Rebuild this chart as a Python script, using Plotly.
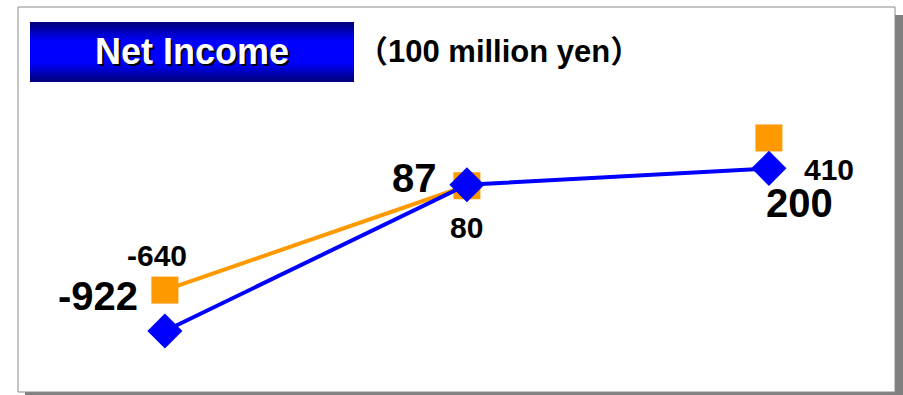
import plotly.graph_objects as go

# ---- data ----
categories = ["A", "B", "C"]
blue_values = [-922, 87, 200]
orange_values = [-640, 80, 410]
orange_line_points = 2  # the orange line only joins the first two points
title_text = "Net Income"
unit_text = "（100 million yen）"

W, H = 903, 395
FONT = "Liberation Sans, Arial, Noto Sans CJK JP, sans-serif"

def px(x):
    return x / W

def py(y):
    return 1 - y / H

fig = go.Figure()

fig.add_trace(go.Scatter(
    x=categories[:orange_line_points], y=orange_values[:orange_line_points],
    mode="lines", line=dict(color="#FF9900", width=4),
    hoverinfo="skip", showlegend=False,
))
fig.add_trace(go.Scatter(
    x=categories, y=orange_values, mode="markers",
    marker=dict(symbol="square", size=27, color="#FF9900"),
    hoverinfo="skip", showlegend=False,
))
fig.add_trace(go.Scatter(
    x=categories, y=blue_values, mode="lines+markers",
    line=dict(color="#0000FF", width=4),
    marker=dict(symbol="diamond", size=27, color="#0000FF"),
    hoverinfo="skip", showlegend=False,
))

shapes = []
# shadow of the frame
shapes.append(dict(type="rect", xref="paper", yref="paper", layer="below",
                   x0=px(25), x1=px(905), y0=py(399), y1=py(15),
                   fillcolor="#808080", line=dict(width=0)))
# frame
shapes.append(dict(type="rect", xref="paper", yref="paper", layer="below",
                   x0=px(18), x1=px(895), y0=py(392), y1=py(7),
                   fillcolor="white", line=dict(color="#8a8a8a", width=1)))
# title box gradient (strips)
top, bot = 22, 82
n = bot - top
for i in range(n):
    t = (i + 0.5) / n
    d = abs(t - 0.5) * 2
    k = max(0.0, (d - 0.35) / 0.65)
    b = int(round(255 - k * (255 - 120)))
    shapes.append(dict(type="rect", xref="paper", yref="paper", layer="below",
                       x0=px(30), x1=px(354), y0=py(top + i + 1), y1=py(top + i),
                       fillcolor=f"rgb(0,0,{b})", line=dict(width=0)))

annotations = []
annotations.append(dict(xref="paper", yref="paper", x=px(192), y=py(51),
                        text=f"<b>{title_text}</b>", showarrow=False,
                        xanchor="center", yanchor="middle",
                        font=dict(family=FONT, size=36, color="white",
                                  shadow="2px 2px 0px black")))
annotations.append(dict(xref="paper", yref="paper", x=px(499), y=py(51),
                        text=f"<b>{unit_text}</b>", showarrow=False,
                        xanchor="center", yanchor="middle",
                        font=dict(family=FONT, size=31, color="black")))

blue_offsets = [(-67, 35), (-52, 7), (31, -35)]
orange_offsets = [(-8, 35), (0, -42), (60, -32)]
for c, v, (dx, dy) in zip(categories, blue_values, blue_offsets):
    annotations.append(dict(x=c, y=v, text=f"<b>{v}</b>", showarrow=False,
                            xshift=dx, yshift=dy, xanchor="center", yanchor="middle",
                            font=dict(family=FONT, size=40, color="black")))
for c, v, (dx, dy) in zip(categories, orange_values, orange_offsets):
    annotations.append(dict(x=c, y=v, text=f"<b>{v}</b>", showarrow=False,
                            xshift=dx, yshift=dy, xanchor="center", yanchor="middle",
                            font=dict(family=FONT, size=30, color="black")))

fig.update_layout(
    width=W, height=H,
    margin=dict(l=0, r=0, t=0, b=0),
    paper_bgcolor="white", plot_bgcolor="rgba(0,0,0,0)",
    xaxis=dict(range=[-0.546, 2.444], visible=False, fixedrange=True),
    yaxis=dict(range=[-1364, 1362], visible=False, fixedrange=True),
    shapes=shapes, annotations=annotations,
)

fig.write_html("out.html")
